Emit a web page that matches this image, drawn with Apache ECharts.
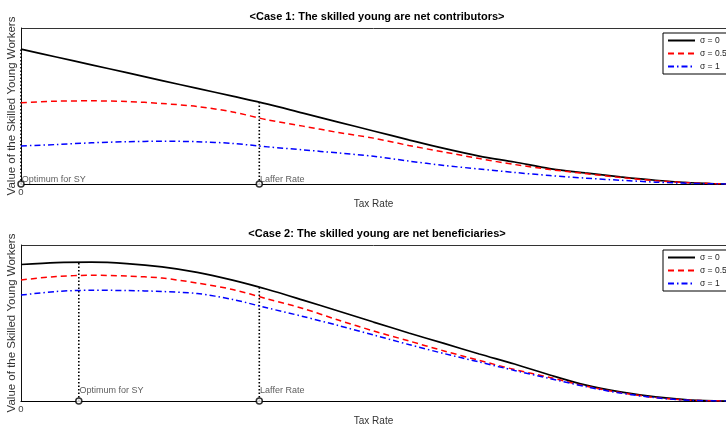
<!DOCTYPE html>
<html>
<head>
<meta charset="utf-8">
<script src="https://cdn.jsdelivr.net/npm/echarts@6/dist/echarts.min.js"></script>
<style>
html,body{margin:0;padding:0;background:#fff;}
#chart{width:726px;height:426px;}
</style>
</head>
<body>
<div id="chart"></div>
<script>
// Tax rate grid (0..1)
const taxRate = [0,0.05,0.1,0.15,0.2,0.25,0.3,0.35,0.4,0.45,0.5,0.55,0.6,0.65,0.7,0.75,0.8,0.85,0.9,0.95,1];
const seriesNames = ['σ = 0','σ = 0.5','σ = 1'];
// Case 1: skilled young are net contributors
const case1S0   = [0.865,0.814,0.764,0.714,0.663,0.613,0.563,0.512,0.454,0.397,0.340,0.283,0.228,0.179,0.141,0.099,0.071,0.046,0.024,0.008,0];
const case1S05  = [0.521,0.531,0.533,0.529,0.516,0.497,0.462,0.411,0.371,0.330,0.294,0.247,0.205,0.163,0.125,0.093,0.067,0.042,0.021,0.008,0];
const case1S1   = [0.244,0.253,0.264,0.271,0.274,0.271,0.260,0.238,0.219,0.199,0.178,0.147,0.119,0.096,0.074,0.054,0.038,0.024,0.012,0.004,0];
// Case 2: skilled young are net beneficiaries
const case2S0   = [0.875,0.887,0.890,0.881,0.860,0.825,0.775,0.715,0.647,0.577,0.506,0.436,0.369,0.301,0.237,0.167,0.103,0.058,0.026,0.006,0];
const case2S05  = [0.776,0.798,0.806,0.801,0.788,0.756,0.715,0.654,0.593,0.519,0.449,0.385,0.321,0.260,0.202,0.151,0.096,0.054,0.022,0.005,0];
const case2S1   = [0.679,0.702,0.710,0.708,0.702,0.689,0.651,0.596,0.542,0.484,0.423,0.362,0.304,0.250,0.196,0.144,0.093,0.051,0.021,0.004,0];
// Marked rates (Optimum for SY, Laffer Rate) and curve heights there
const markLabels = ['Optimum for SY','Laffer Rate'];
const case1MarkRates = [0, 0.338];
const case1MarkTops  = [0.865, 0.526];
const case2MarkRates = [0.082, 0.338];
const case2MarkTops  = [0.895, 0.722];
const titles = ['<Case 1: The skilled young are net contributors>','<Case 2: The skilled young are net beneficiaries>'];
const xName = 'Tax Rate';
const yName = 'Value of the Skilled Young Workers';

const FONT = 'Liberation Sans, Arial, Helvetica, sans-serif';
const colors = ['#000000','#ff0000','#0000ff'];
const dashes = ['solid',[6,4],[6,3,1.5,3]];
const widths = [1.7,1.5,1.5];

const gridTops = [28, 245];
const labelLift = [-4, -10];
const caseData = [[case1S0,case1S05,case1S1],[case2S0,case2S05,case2S1]];
const markRates = [case1MarkRates, case2MarkRates];
const markTops = [case1MarkTops, case2MarkTops];

const grids = [], xAxes = [], yAxes = [], series = [], titleOpts = [], legends = [];
for (let g = 0; g < 2; g++) {
  grids.push({left:21, right:0, top:gridTops[g], height:156, show:false,
    containLabel:false, outerBoundsMode:'none'});
  xAxes.push({
    type:'value', gridIndex:g, min:0, max:1, interval:1,
    name:xName, nameLocation:'middle', nameGap:15,
    nameTextStyle:{fontFamily:FONT, fontSize:10, color:'#333'},
    axisLine:{show:true, lineStyle:{color:'#000', width:1.2}},
    axisTick:{show:false},
    splitLine:{show:false},
    axisLabel:{show:true, margin:3, fontFamily:FONT, fontSize:9.5, color:'#444',
      formatter: v => v === 0 ? '0' : ''}
  });
  yAxes.push({
    type:'value', gridIndex:g, min:0, max:1, interval:1,
    name:yName, nameLocation:'middle', nameGap:3,
    nameTextStyle:{fontFamily:FONT, fontSize:11.5, color:'#333'},
    axisLine:{show:true, lineStyle:{color:'#111', width:1}},
    axisTick:{show:false},
    axisLabel:{show:false},
    splitLine:{show:true, showMinLine:false, lineStyle:{color:'#333', width:1, type:'solid'}}
  });
  titleOpts.push({
    text:titles[g], left:377, top:gridTops[g]-17, textAlign:'center', padding:0,
    textStyle:{fontFamily:FONT, fontSize:11, fontWeight:'bold', color:'#000'}
  });
  legends.push({
    data:seriesNames, orient:'vertical', left:663, top:gridTops[g]+5,
    itemWidth:27, itemHeight:9, itemGap:4, padding:[3,4,3,4],
    backgroundColor:'#fff', borderColor:'#000', borderWidth:1, borderRadius:0,
    itemStyle:{opacity:0},
    textStyle:{fontFamily:FONT, fontSize:8.5, color:'#222'},
    selectedMode:false
  });
  // Dotted verticals and markers
  for (let k = 0; k < 2; k++) {
    series.push({
      type:'line', name:'guide'+g+k, xAxisIndex:g, yAxisIndex:g,
      data:[[markRates[g][k],0],[markRates[g][k],markTops[g][k]]],
      symbol:'none', silent:true, z:1,
      lineStyle:{color:'#000', width:1.6, type:[1.5,2]}
    });
  }
  for (let s = 0; s < 3; s++) {
    series.push({
      type:'line', name:seriesNames[s], xAxisIndex:g, yAxisIndex:g,
      data: taxRate.map((t,i) => [t, caseData[g][s][i]]),
      symbol:'none', smooth:0.3, z:3+s,
      itemStyle:{color:colors[s]},
      lineStyle:{color:colors[s], width:widths[s], type:dashes[s]}
    });
  }
  series.push({
    type:'scatter', name:'marks'+g, xAxisIndex:g, yAxisIndex:g,
    data: markRates[g].map((t,k) => ({value:[t,0], label:{formatter:markLabels[k]}})),
    symbol:'circle', symbolSize:6, z:10, silent:true,
    itemStyle:{color:'#fff', borderColor:'#000', borderWidth:1.5},
    label:{show:true, position:'right', distance:0, offset:[-3,labelLift[g]],
      fontFamily:FONT, fontSize:9, color:'#333'}
  });
}

const chart = echarts.init(document.getElementById('chart'), null, {renderer:'canvas'});
chart.setOption({
  animation:false,
  backgroundColor:'#fff',
  title:titleOpts,
  legend:legends,
  grid:grids,
  xAxis:xAxes,
  yAxis:yAxes,
  series:series
});
</script>
</body>
</html>
